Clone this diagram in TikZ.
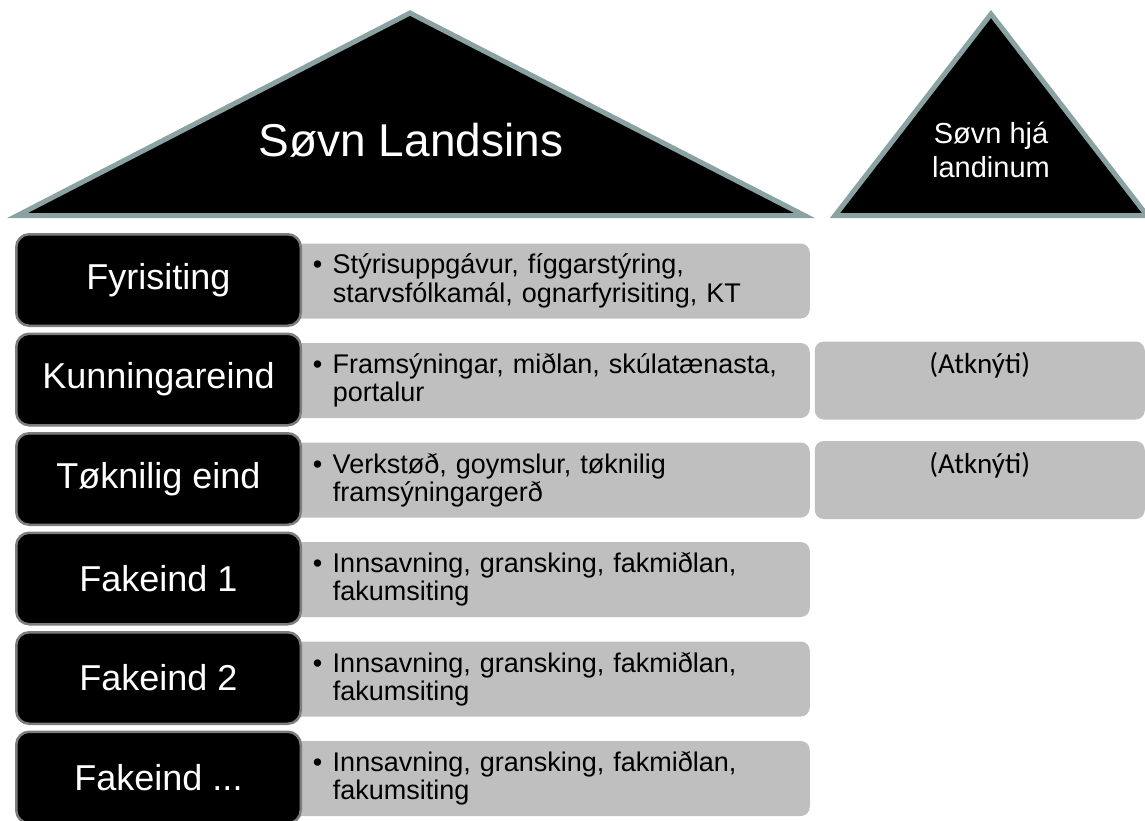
\documentclass[tikz,border=0pt]{standalone}
\usepackage{fontspec}
\setmainfont{Liberation Sans}
\newfontfamily\calibri{Carlito}
\usetikzlibrary{positioning}
\definecolor{roofedge}{RGB}{138,162,162}
\definecolor{unitedge}{RGB}{125,125,125}
\definecolor{descgray}{RGB}{191,191,191}
\newcommand{\descfont}{\fontsize{27}{28.3}\selectfont\spaceskip=14pt plus 2pt\relax}
\tikzset{
  roof/.style={fill=black,draw=roofedge,line width=5pt},
  unitbox/.style={fill=black,draw=unitedge,line width=2.5pt,rounded corners=13pt,
    minimum width=284.5pt,minimum height=91.5pt,outer sep=0pt,text=white,
    font=\fontsize{36}{43}\selectfont},
  descbox/.style={fill=descgray,rounded corners=9pt,anchor=west,outer sep=0pt,
    text width=473pt,inner xsep=24pt,minimum height=75pt,align=left,
    font=\descfont},
  sidebox/.style={fill=descgray,rounded corners=9pt,minimum width=330pt,outer sep=0pt,
    inner ysep=0pt,text height=32pt,text depth=46pt,font=\calibri\fontsize{29}{34}\selectfont},
}
\newcommand{\bul}{\makebox[20pt][l]{•}}
\newcommand{\ind}{\hspace*{20pt}}

\begin{document}
\begin{tikzpicture}[x=1pt,y=-1pt]
\useasboundingbox (0,0) rectangle (1145,821);

% roofs
\coordinate (bigl) at (17.5,215.5);
\coordinate (bigtop) at (410,13);
\coordinate (bigr) at (804.5,215.5);
\draw[roof] (bigl) -- (bigtop) -- (bigr) -- cycle;
\node[text=white,anchor=base,font=\fontsize{46}{55}\selectfont] (bigname) at (411,157) {Søvn Landsins};

\coordinate (smalll) at (835,215.5);
\coordinate (smalltop) at (991,14);
\coordinate (smallr) at (1147,215.5);
\draw[roof] (smalll) -- (smalltop) -- (smallr) -- cycle;
\node[text=white,align=center,font=\fontsize{29}{34}\selectfont] (smallname) at (991,150) {Søvn hjá\\landinum};

% descriptions
\node[descbox] (fyrd) at (288.75,281) {\bul Stýrisuppgávur, fíggarstýring,\\\ind starvsfólkamál, ognarfyrisiting, KT};
\node[descbox] (kund) at (288.75,380.5) {\bul Framsýningar, miðlan, skúlatænasta,\\\ind portalur};
\node[descbox] (tekd) at (288.75,480) {\bul Verkstøð, goymslur, tøknilig\\\ind framsýningargerð};
\node[descbox] (fak1d) at (288.75,579.5) {\bul Innsavning, gransking, fakmiðlan,\\\ind fakumsiting};
\node[descbox] (fak2d) at (288.75,679) {\bul Innsavning, gransking, fakmiðlan,\\\ind fakumsiting};
\node[descbox] (fak3d) at (288.75,778.5) {\bul Innsavning, gransking, fakmiðlan,\\\ind fakumsiting};

% units
\node[unitbox] (fyr) at (158.5,280) {Fyrisiting};
\node[unitbox] (kun) at (158.5,379.5) {Kunningareind};
\node[unitbox] (tek) at (158.5,479) {Tøknilig eind};
\node[unitbox] (fak1) at (158.5,578.5) {Fakeind 1};
\node[unitbox] (fak2) at (158.5,678) {Fakeind 2};
\node[unitbox] (fak3) at (158.5,777.5) {Fakeind ...};

% links to the land
\node[sidebox,right=5pt of kund] (kunx) {(Atknýti)};
\node[sidebox,right=5pt of tekd] (tekx) {(Atknýti)};
\end{tikzpicture}
\end{document}
